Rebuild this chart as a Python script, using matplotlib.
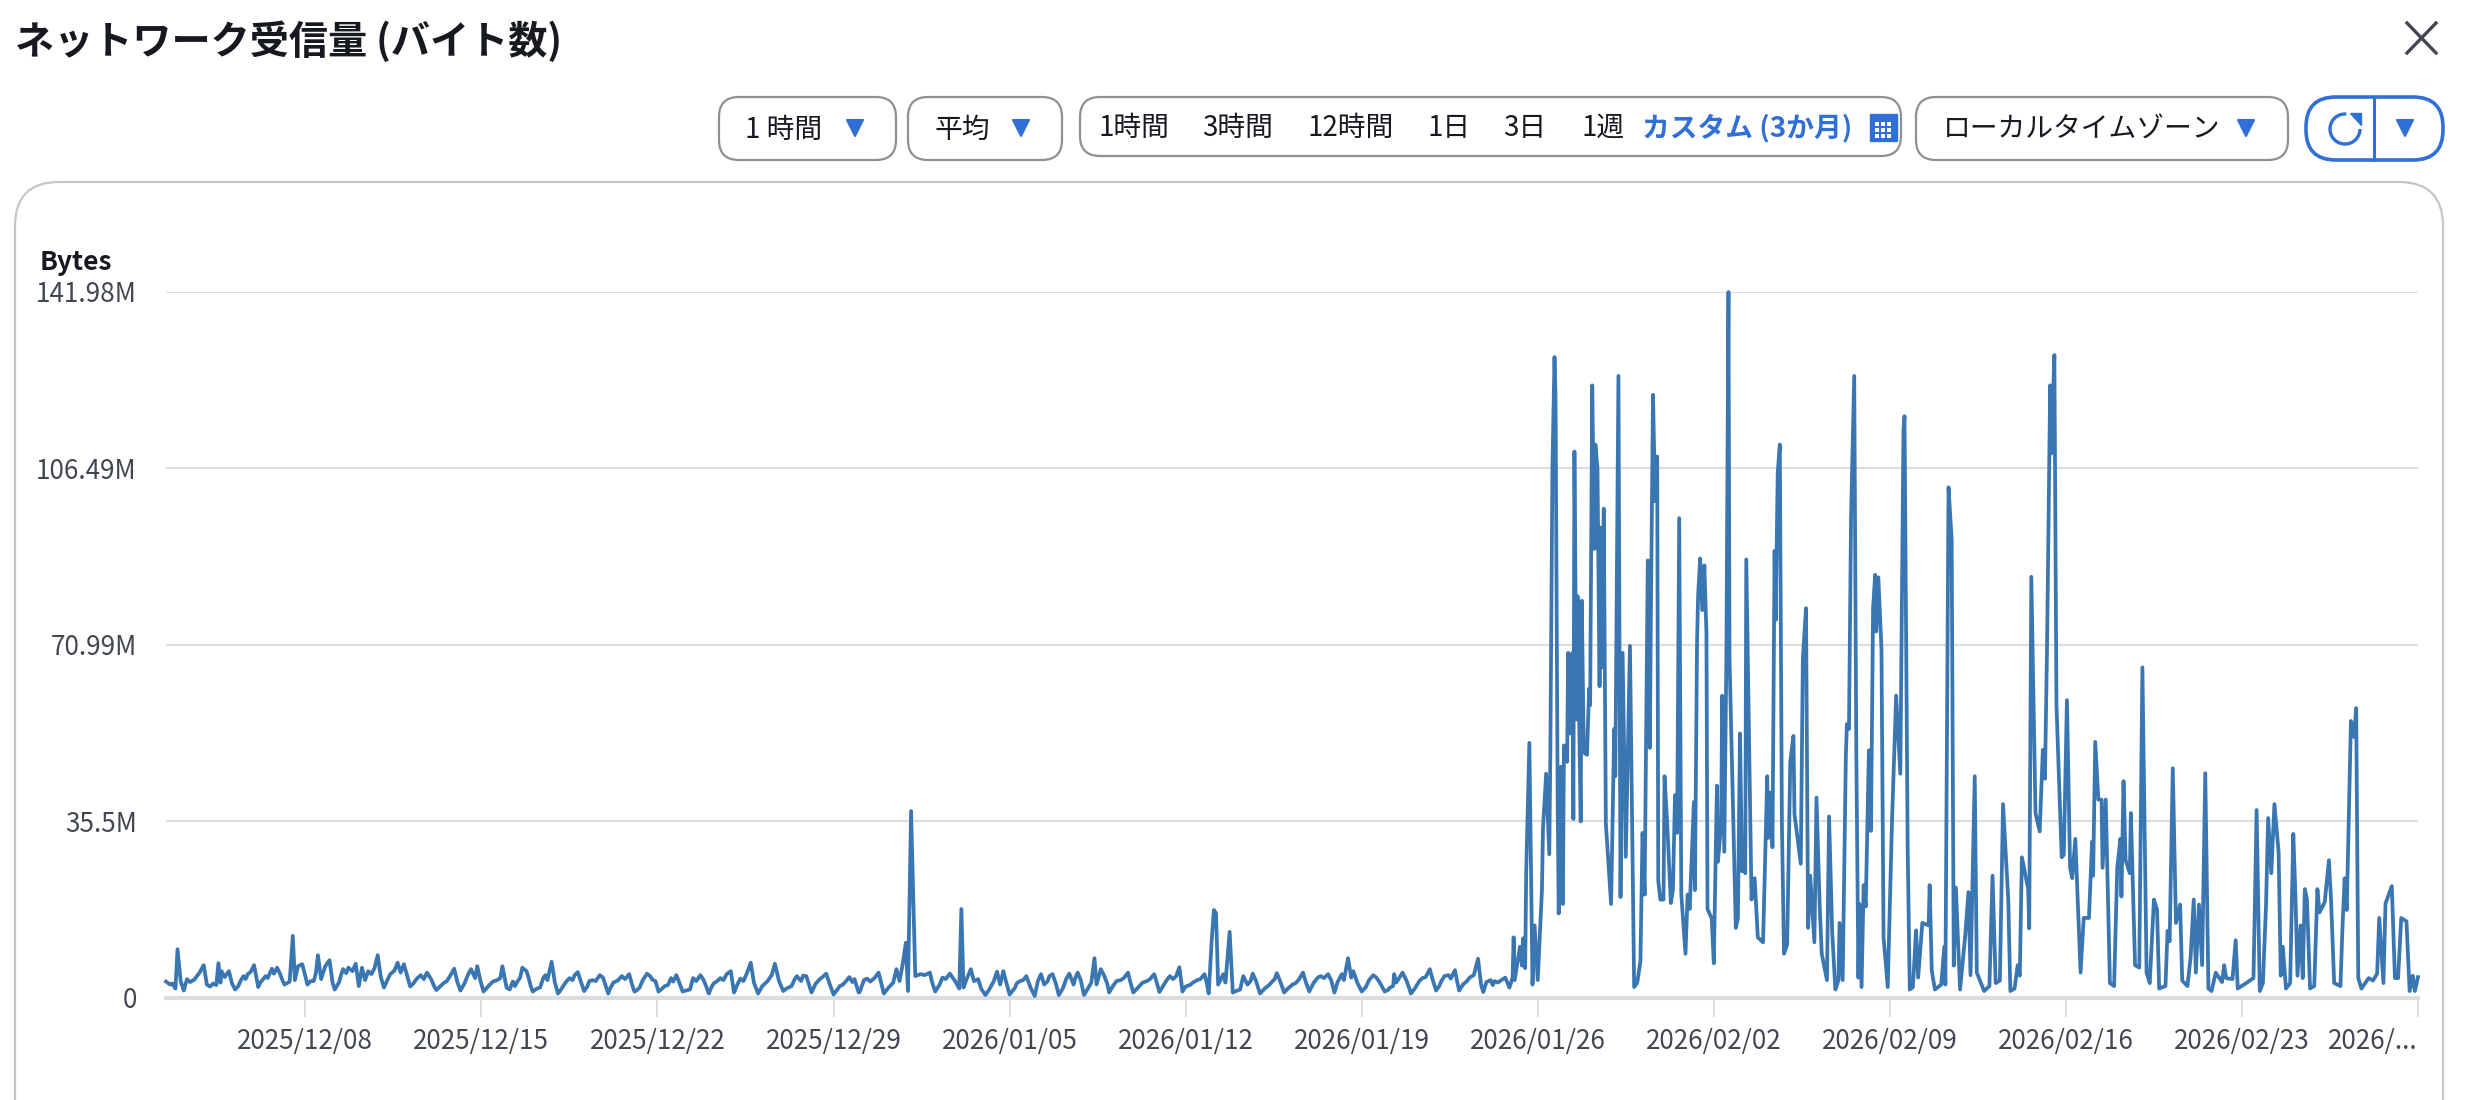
import numpy as np
import pandas as pd
import matplotlib
matplotlib.use("Agg")
import matplotlib.pyplot as plt
from matplotlib.patches import FancyBboxPatch, Polygon, Rectangle, Arc
import matplotlib.dates as mdates

plt.rcParams['font.family'] = ['Noto Sans CJK JP', 'DejaVu Sans']

# Values: hours since the first sample, received MBytes
start_time = pd.Timestamp("2025-12-02 11:00")

hours_dec = [
    0, 4, 6, 9, 11, 14, 17, 20, 23, 27,
    32, 36, 39, 42, 45, 48, 50, 52, 53, 56,
    60, 66, 71, 78, 84, 88, 92, 97, 101, 106,
    109, 113, 118, 121, 123, 126, 130, 135, 141, 145,
    148, 152, 156, 161, 165, 169, 174, 181, 184, 187,
    190, 196, 202, 208, 214, 221, 224, 227, 233, 239,
    249, 258, 268, 275, 281, 291, 295, 297, 303, 309,
    316, 321, 325,
    328, 331, 333, 338, 340, 344, 346, 350, 357, 360,
    364, 368, 374, 379, 385, 393, 399, 404, 414, 417,
    422, 427, 435, 442, 447, 452, 459, 467, 470, 479,
    487, 493, 500, 503, 510, 518, 526, 535, 539, 542,
    551, 558, 565, 574, 581, 589, 597, 602, 611, 616,
    624, 630, 637, 646, 652, 657, 661,
]
mbytes_dec = [
    3.3, 2.7, 2.9, 1.9, 9.8, 3.4, 1.5, 3.8, 3.2, 3.7,
    5.1, 6.6, 2.7, 2.3, 2.9, 2.6, 7.0, 3.1, 5.4, 4.2,
    5.4, 1.7, 3.4, 4.8, 6.6, 2.2, 3.6, 4.0, 5.9, 6.1,
    4.8, 2.7, 3.3, 12.5, 3.6, 6.4, 6.8, 2.7, 3.4, 8.6,
    3.8, 6.4, 7.6, 1.7, 3.1, 5.8, 6.1, 6.9, 2.4, 6.1,
    3.6, 4.8, 8.6, 2.1, 4.8, 7.1, 5.1, 6.8, 2.3, 3.8,
    5.1, 1.6, 3.4, 5.9, 1.5, 5.8, 4.0, 6.4, 1.3, 2.7,
    3.6, 6.4, 2.1,
    1.7, 3.3, 2.4, 4.1, 6.1, 5.4, 4.1, 1.3, 2.1, 4.0,
    3.6, 7.3, 0.9, 2.4, 4.0, 5.2, 1.4, 3.4, 4.6, 4.1,
    0.9, 3.1, 4.4, 4.8, 1.3, 2.1, 4.9, 3.4, 1.3, 2.6,
    4.6, 1.3, 1.7, 4.0, 4.6, 0.9, 3.4, 4.8, 5.4, 1.1,
    3.4, 7.1, 0.9, 3.4, 6.9, 1.4, 2.4, 4.4, 4.4, 1.1,
    3.8, 4.9, 0.7, 2.7, 4.2, 3.8, 1.1,
]

hours_jan = [
    662, 666, 672, 680, 685, 694, 697, 700, 703, 706,
    708, 711, 715, 729, 734, 741, 748, 757, 759, 761,
    768, 771, 775, 782, 793, 796, 799, 805, 815, 821,
    829, 835, 838, 846, 852, 862, 866, 870, 876, 883,
    886, 888, 892, 900, 907, 918, 923, 932, 943, 948,
    958, 964, 967, 970, 980, 991, 995,
    998, 1000, 1002, 1004, 1009, 1011, 1015, 1018, 1025, 1028,
    1032, 1037, 1044, 1053, 1060, 1067, 1075, 1085, 1091, 1099,
    1109, 1115, 1122, 1124, 1128, 1131, 1133, 1141, 1152, 1155,
    1163, 1171, 1172, 1174, 1180, 1188, 1196, 1206, 1212, 1220,
    1230, 1234, 1244, 1252, 1257, 1264, 1266, 1278, 1282, 1285,
]
mbytes_jan = [
    1.2, 3.6, 3.3, 5.1, 0.9, 3.1, 5.8, 3.4, 6.8, 11.1,
    1.4, 37.6, 4.4, 5.1, 1.3, 4.1, 4.9, 1.9, 17.9, 2.1,
    5.8, 3.4, 3.8, 0.6, 5.3, 2.7, 5.4, 0.7, 3.4, 4.4,
    0.4, 4.8, 2.7, 4.8, 0.6, 4.9, 2.7, 5.1, 0.6, 3.1,
    8.0, 2.7, 5.8, 1.1, 3.4, 5.1, 1.1, 3.1, 4.8, 1.2,
    4.4, 4.4, 6.2, 1.3, 3.1, 4.8, 0.9,
    12.0, 17.7, 17.0, 2.7, 4.8, 3.1, 13.3, 1.1, 1.7, 4.4,
    2.7, 4.9, 0.9, 2.7, 5.0, 1.1, 2.7, 5.1, 1.3, 4.1,
    4.8, 1.1, 4.8, 3.6, 8.0, 4.1, 5.4, 1.3, 4.6, 4.1,
    1.3, 2.4, 4.8, 3.1, 5.1, 0.9, 3.4, 5.8, 1.5, 4.4,
    5.6, 1.5, 4.1, 7.9, 1.2, 3.6, 2.6, 4.1, 2.1, 4.1,
]

# second pass over the quiet weeks: the daily plateaus between peak and trough
hours_quiet = [
    63, 69, 74, 76, 81, 90, 95, 103, 111, 138,
    143, 159, 167, 172, 178, 193, 199, 205, 211, 218,
    236, 243, 246, 253, 256, 262, 265, 271, 278, 285,
    288, 300, 306, 312, 319,
    335, 348, 354, 362, 371, 376, 382, 388, 390, 396,
    402, 407, 410, 419, 424, 431, 438, 445, 449, 455,
    462, 464, 473, 476, 482, 484, 490, 496, 506, 513,
    515, 521, 523, 529, 532, 545, 548, 554, 561, 569,
    571, 578, 585, 592, 600, 606, 608, 620, 627, 633,
    641, 643, 649, 655,
    669, 676, 683, 690, 720, 724, 731, 738, 744, 753,
    764, 778, 785, 790, 802, 810, 812, 818, 825, 832,
    841, 843, 849, 856, 859, 868, 873, 880, 895, 898,
    903, 911, 914, 920, 927, 936, 939, 945, 952, 955,
    961, 973, 977, 984, 987, 993,
    1021, 1035, 1040, 1048, 1056, 1058, 1063, 1070, 1078, 1081,
    1088, 1095, 1102, 1105, 1112, 1118, 1137, 1145, 1148, 1158,
    1166, 1168, 1177, 1184, 1192, 1199, 1202, 1209, 1215, 1217,
    1224, 1226, 1232, 1238, 1241, 1248, 1255, 1260, 1268, 1271,
    1275,
]
mbytes_quiet = [
    2.9, 2.4, 4.4, 3.8, 5.3, 3.1, 4.4, 4.9, 3.6, 3.4,
    5.0, 3.0, 4.6, 5.0, 5.4, 5.4, 6.0, 4.2, 3.5, 5.5,
    2.9, 4.6, 3.8, 3.8, 2.3, 2.4, 3.0, 4.4, 3.2, 3.0,
    4.6, 3.5, 2.0, 3.3, 4.0,
    3.2, 2.4, 1.9, 4.6, 3.2, 1.4, 3.3, 3.6, 4.6, 3.2,
    2.3, 3.6, 3.4, 2.8, 2.0, 3.5, 3.8, 2.5, 1.5, 3.6,
    4.4, 3.7, 1.8, 2.4, 4.0, 3.3, 3.0, 1.5, 3.4, 3.6,
    2.6, 2.4, 3.0, 4.0, 3.6, 2.6, 3.9, 4.8, 3.1, 2.4,
    2.8, 4.6, 3.4, 1.9, 3.8, 3.4, 4.5, 2.9, 4.3, 3.0,
    1.8, 2.4, 3.4, 3.2,
    3.9, 4.0, 2.6, 2.2, 4.8, 4.6, 3.2, 2.6, 3.8, 3.4,
    3.8, 1.8, 1.5, 3.4, 3.0, 2.0, 3.0, 3.6, 2.1, 3.4,
    3.3, 4.4, 3.0, 2.0, 3.8, 4.2, 3.5, 2.0, 4.6, 3.0,
    2.2, 3.6, 4.0, 3.4, 2.0, 3.4, 3.8, 3.4, 2.6, 3.6,
    3.8, 2.3, 2.6, 3.6, 3.8, 3.2,
    1.4, 3.4, 3.5, 1.8, 3.4, 3.8, 3.5, 1.8, 3.0, 3.7,
    3.0, 3.0, 4.4, 4.0, 3.5, 3.2, 3.0, 2.2, 3.6, 3.2,
    1.6, 2.1, 4.1, 3.4, 2.0, 4.0, 4.2, 3.5, 2.4, 3.4,
    4.6, 3.9, 3.4, 2.8, 3.3, 4.6, 2.6, 3.2, 3.4, 3.1,
    3.7,
]

hours_feb1 = [
    1286, 1287, 1292, 1294, 1295, 1297, 1298, 1301, 1304, 1306,
    1309, 1313, 1314, 1317, 1320, 1321, 1323, 1325, 1326, 1328,
    1329, 1331, 1333, 1334, 1337, 1338, 1340, 1342, 1343, 1344,
    1346, 1347, 1349, 1350, 1351, 1353, 1356, 1358, 1359, 1361,
    1363, 1364, 1366, 1368, 1369, 1370, 1372, 1374, 1379, 1382,
    1383, 1386, 1388, 1390, 1393, 1397, 1401, 1404, 1407, 1409,
    1411, 1414, 1416, 1417, 1419, 1421, 1423, 1424, 1426, 1429,
    1430, 1433, 1436, 1438, 1440, 1442, 1444, 1446, 1450, 1452,
    1454, 1458, 1459, 1461, 1462, 1464, 1466, 1468, 1470, 1471,
    1475, 1477, 1480, 1481, 1484, 1485, 1487, 1489, 1491, 1492,
    1496, 1498, 1500, 1502, 1504, 1506, 1507, 1508, 1513, 1516,
    1519, 1524, 1528, 1529, 1531, 1533, 1535, 1536, 1538, 1540,
    1542, 1544, 1547, 1550, 1553, 1554, 1560, 1562, 1565, 1567,
    1569, 1573, 1575, 1578, 1580, 1585, 1587, 1590, 1593, 1596,
    1597, 1600, 1603, 1604, 1606, 1608, 1611, 1613, 1615, 1616,
    1618, 1620, 1622, 1625, 1627, 1629, 1631, 1632, 1634, 1637,
    1639, 1643, 1647, 1651, 1655, 1658, 1659, 1662, 1664, 1667,
    1670, 1672, 1676, 1682, 1683, 1685, 1688, 1694, 1697, 1698,
    1701, 1704, 1706, 1708, 1712, 1717, 1720, 1722, 1726,
]
mbytes_feb1 = [
    12.2, 3.6, 10.3, 6.5, 12.0, 6.0, 25.5, 51.3, 2.7, 14.6,
    3.6, 21.7, 34.1, 45.1, 28.9, 49.0, 106.5, 128.9, 120.8, 39.8,
    17.0, 46.5, 18.9, 50.8, 47.5, 69.4, 53.2, 69.4, 36.0, 109.9,
    56.0, 80.8, 49.4, 35.5, 79.9, 49.4, 48.9, 62.2, 58.9, 123.2,
    90.3, 111.3, 106.5, 62.7, 94.6, 66.5, 98.4, 35.1, 18.9, 54.1,
    44.6, 125.1, 20.3, 69.4, 28.4, 70.8, 2.2, 3.1, 7.4, 33.2,
    20.8, 88.0, 50.3, 78.0, 121.3, 99.9, 108.9, 23.6, 19.8, 19.8,
    44.6, 33.2, 19.1, 21.7, 40.8, 33.2, 96.5, 20.8, 8.9, 20.8,
    17.9, 39.4, 21.7, 71.3, 80.8, 88.4, 78.0, 87.0, 73.2, 17.9,
    16.0, 7.0, 42.7, 27.4, 35.1, 60.8, 29.4, 68.4, 141.98, 68.4,
    32.2, 14.1, 16.0, 53.2, 25.5, 29.4, 25.1, 88.2, 19.8, 24.1,
    12.2, 11.2, 44.6, 32.2, 41.3, 30.3, 89.9, 76.0, 105.6, 111.3,
    35.1, 8.9, 10.8, 47.5, 52.7, 37.0, 27.0, 68.4, 78.4, 14.1,
    24.6, 11.2, 40.3, 18.9, 8.9, 3.6, 36.5, 13.2, 1.7, 3.6,
    15.1, 3.6, 48.4, 55.1, 54.1, 97.0, 125.1, 49.4, 4.1, 18.9,
    2.2, 22.7, 18.4, 49.8, 33.6, 78.4, 85.1, 73.7, 84.6, 70.3,
    12.2, 2.2, 35.1, 60.8, 45.1, 114.2, 117.0, 30.3, 1.7, 2.2,
    13.6, 4.1, 15.1, 14.6, 22.7, 5.5, 1.7, 2.7, 10.3, 2.7,
    102.7, 92.2, 6.5, 22.2, 1.7, 12.7, 21.3, 4.6, 44.6,
]

hours_feb2 = [
    1728, 1735, 1740, 1743, 1746, 1750, 1753, 1758, 1760, 1764,
    1767, 1769, 1771, 1777, 1778, 1780, 1784, 1788, 1791, 1793,
    1795, 1798, 1799, 1802, 1804, 1807, 1809, 1811, 1814, 1817,
    1819, 1822, 1827, 1830, 1835, 1838, 1839, 1841, 1844, 1847,
    1848, 1851, 1855, 1859, 1862, 1865, 1866, 1868, 1870, 1874,
    1875, 1879, 1883, 1886, 1890, 1893, 1897, 1900, 1902, 1908,
    1910, 1912, 1915, 1918, 1922, 1924, 1929, 1932, 1935, 1937,
    1940, 1943, 1946, 1949, 1952, 1956, 1962, 1964, 1966, 1972,
    1975, 1977, 1985, 1992, 1995, 1998, 2001, 2004, 2006, 2009,
    2012, 2016, 2018, 2020, 2023, 2027, 2030, 2032, 2034, 2037,
    2039, 2041, 2043, 2046, 2050, 2053, 2055, 2060, 2064, 2066,
    2069, 2075, 2077, 2079, 2081, 2085, 2088, 2090, 2092, 2095,
    2102, 2106, 2110, 2112, 2116, 2118, 2124, 2127, 2130, 2133,
    2138, 2141, 2144, 2146, 2149,
]
mbytes_feb2 = [
    5.1, 1.4, 2.4, 24.6, 3.0, 3.5, 39.0, 19.8, 1.4, 1.9,
    6.6, 4.5, 28.3, 21.9, 14.0, 84.7, 37.2, 33.5, 49.9, 44.1,
    70.5, 123.2, 109.5, 129.3, 58.9, 40.4, 28.3, 28.8, 59.9, 26.2,
    24.1, 32.0, 5.1, 16.1, 16.1, 31.4, 24.6, 51.5, 39.9, 39.9,
    26.2, 39.9, 3.0, 2.4, 26.2, 32.0, 20.4, 43.6, 27.7, 25.1,
    37.2, 6.6, 6.1, 66.5, 5.1, 3.0, 19.8, 17.7, 1.9, 2.4,
    13.5, 11.4, 46.2, 15.1, 18.8, 3.5, 2.4, 8.2, 19.8, 5.1,
    18.8, 6.6, 45.2, 1.9, 1.4, 5.1, 3.2, 6.6, 4.0, 3.8,
    11.6, 1.9, 3.0, 4.0, 37.8, 1.4, 3.0, 18.8, 36.2, 25.1,
    39.0, 29.3, 4.5, 10.3, 1.9, 3.0, 33.0, 20.9, 4.5, 14.6,
    4.0, 21.9, 19.8, 1.9, 2.4, 21.9, 17.2, 19.3, 27.7, 19.8,
    3.0, 2.4, 14.6, 24.1, 17.7, 55.7, 52.5, 58.3, 4.0, 1.9,
    4.0, 3.5, 4.9, 16.1, 3.0, 19.0, 22.5, 4.0, 4.0, 16.1,
    15.4, 1.4, 4.5, 1.4, 4.2,
]

y_ticks = [0, 35.5, 70.99, 106.49, 141.98]
y_labels = ["0", "35.5M", "70.99M", "106.49M", "141.98M"]
x_tick_dates = ["2025-12-08", "2025-12-15", "2025-12-22", "2025-12-29", "2026-01-05",
                "2026-01-12", "2026-01-19", "2026-01-26", "2026-02-02", "2026-02-09",
                "2026-02-16", "2026-02-23", "2026-03-02"]
x_labels = ["2025/12/08", "2025/12/15", "2025/12/22", "2025/12/29", "2026/01/05",
            "2026/01/12", "2026/01/19", "2026/01/26", "2026/02/02", "2026/02/09",
            "2026/02/16", "2026/02/23", "2026/..."]

title = "ネットワーク受信量 (バイト数)"
range_labels = ["1時間", "3時間", "12時間", "1日", "3日", "1週"]
range_centers = [1134, 1238, 1351, 1449, 1525, 1603]

hours = np.array(hours_dec + hours_jan + hours_quiet + hours_feb1 + hours_feb2)
mbytes = np.array(mbytes_dec + mbytes_jan + mbytes_quiet + mbytes_feb1 + mbytes_feb2)
order = np.argsort(hours, kind="stable")
hours = hours[order]
mbytes = mbytes[order]
times = start_time + pd.to_timedelta(hours, unit="h")

W, H = 2468, 1100
BLUE = "#2f6fd6"
LINE = "#3a76b1"
GREY = "#8d9096"
TEXT = "#16191f"
TICK = "#414750"
GRID = "#dcdce1"

fig = plt.figure(figsize=(W / 100, H / 100), dpi=100, facecolor="white")

# UI chrome is drawn in a full-figure axes using pixel coordinates
ui = fig.add_axes([0, 0, 1, 1], zorder=0)
ui.set_xlim(0, W)
ui.set_ylim(H, 0)
ui.axis("off")


def box(x0, y0, x1, y1, r=20, ec=GREY, lw=1.6):
    ui.add_patch(FancyBboxPatch((x0 + r, y0 + r), x1 - x0 - 2 * r, y1 - y0 - 2 * r,
                                boxstyle=f"round,pad={r},rounding_size={r}",
                                fc="white", ec=ec, lw=lw))


def arrow(x, y=128):
    ui.add_patch(Polygon([(x - 8, y - 8), (x + 8, y - 8), (x, y + 8)], closed=True,
                         fc=BLUE, ec=BLUE, lw=1.5, joinstyle="round"))


ui.text(15, 42, title, fontsize=28.2, fontweight="bold", color=TEXT, va="center", ha="left")
ui.plot([2407, 2436], [23, 53], color=TICK, lw=2.4)
ui.plot([2436, 2407], [23, 53], color=TICK, lw=2.4)

box(719, 97, 896, 160)
ui.text(784, 130, "1 時間", fontsize=20, color=TEXT, ha="center", va="center")
arrow(855)
box(908, 97, 1062, 160)
ui.text(962, 130, "平均", fontsize=20, color=TEXT, ha="center", va="center")
arrow(1021)

box(1080, 97, 1901, 156)
for lab, cx in zip(range_labels, range_centers):
    ui.text(cx, 128, lab, fontsize=20, color=TEXT, ha="center", va="center")
ui.text(1642, 128, "カスタム (3か月)", fontsize=20, fontweight="bold", color=BLUE, ha="left", va="center")
ui.add_patch(Rectangle((1870, 114), 27, 27, fc=BLUE, ec=BLUE))
for gx in [1875, 1881, 1887]:
    for gy in [122, 128, 134]:
        ui.add_patch(Rectangle((gx, gy), 4, 4, fc="white", ec="none"))

box(1916, 97, 2288, 160)
ui.text(1943, 130, "ローカルタイムゾーン", fontsize=20, color=TEXT, ha="left", va="center")
arrow(2246)

box(2306, 97, 2443, 160, r=30, ec=BLUE, lw=2.6)
ui.plot([2374, 2374], [97, 160], color=BLUE, lw=2.2)
ui.add_patch(Arc((2345, 129), 30, 30, theta1=0, theta2=275, color=BLUE, lw=2.4))
ui.add_patch(Polygon([(2350, 113), (2361, 113), (2361, 125)], closed=True, fc=BLUE, ec=BLUE))
arrow(2405)

# chart card runs off the bottom of the picture
box(15, 182, 2443, 1180, r=44, ec="#c4c5ca", lw=1.6)
ui.text(40, 262, "Bytes", fontsize=19, fontweight="bold", color=TEXT, ha="left", va="center")

# chart axes
ax = fig.add_axes([166 / W, 1 - 998 / H, (2418 - 166) / W, (998 - 292) / H], zorder=1)
ax.patch.set_alpha(0)
ax.plot(times, mbytes, color=LINE, lw=2.7, solid_joinstyle="round", clip_on=False, zorder=3)
ax.set_xlim(times[0], times[-1])
ax.set_ylim(0, 141.98)

ax.set_yticks(y_ticks)
ax.set_yticklabels(y_labels, fontsize=18.8, color=TICK)
ax.tick_params(axis="y", length=0, pad=21)
ax.yaxis.grid(True, color=GRID, lw=1.5)
ax.set_axisbelow(True)

ax.set_xticks(mdates.date2num(pd.to_datetime(x_tick_dates)))
ax.set_xticklabels(x_labels, fontsize=18.8, color=TICK)
ax.tick_params(axis="x", length=13.5, width=1.4, color=GRID, pad=8)
ax.get_xticklabels()[-1].set_ha("right")

for s in ["top", "left", "right"]:
    ax.spines[s].set_visible(False)
ax.spines["bottom"].set_color(GRID)
ax.spines["bottom"].set_linewidth(3)

fig.savefig("out.png", dpi=100)
